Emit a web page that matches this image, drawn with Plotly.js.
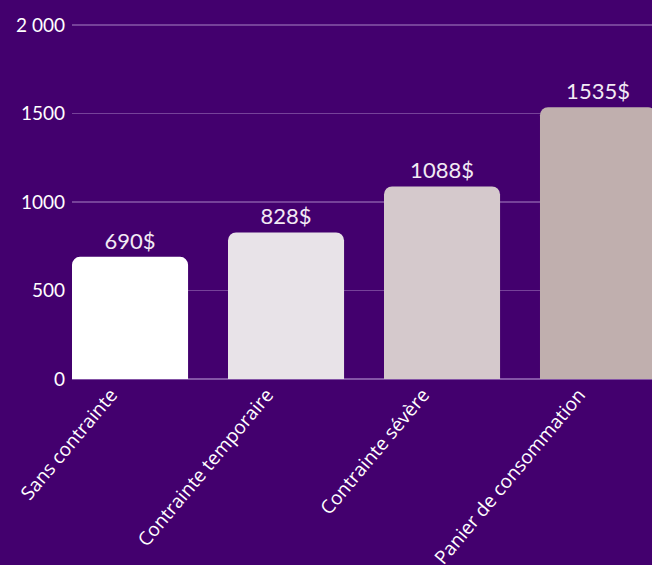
<!DOCTYPE html>
<html>
<head>
<meta charset="utf-8">
<script src="https://cdn.plot.ly/plotly-3.0.1.min.js"></script>
<style>html,body{margin:0;padding:0;background:#43006e;}#chart{width:652px;height:565px;}</style>
</head>
<body>
<div id="chart"></div>
<script>
const categories = ["Sans contrainte", "Contrainte temporaire", "Contrainte sévère", "Panier de consommation"];
const values = [690, 828, 1088, 1535];
const labels = ["690$", "828$", "1088$", "1535$"];
const barColors = ["#ffffff", "#e8e3e8", "#d5c9cc", "#c0afae"];
const tickVals = [0, 500, 1000, 1500, 2000];
const tickText = ["0", "500", "1000", "1500", "2 000"];

const font = "Lato, 'Open Sans', sans-serif";
const catFont = "'Open Sans', Lato, sans-serif";
const trace = {
  type: "bar",
  x: categories,
  y: values,
  text: labels,
  textposition: "outside",
  textfont: {family: font, size: 22, color: "#f2eaf4"},
  cliponaxis: false,
  marker: {color: barColors, cornerradius: 8, line: {width: 0}},
  hoverinfo: "none"
};
const layout = {
  width: 652, height: 565,
  paper_bgcolor: "#43006e",
  plot_bgcolor: "#43006e",
  margin: {l: 72, r: 0, t: 20, b: 186},
  showlegend: false,
  bargap: 0.256,
  font: {family: font, color: "#ffffff"},
  xaxis: {
    type: "category",
    range: [-0.372, 3.346],
    tickangle: -50,
    tickfont: {family: catFont, size: 19, color: "#ffffff"},
    showgrid: false,
    zeroline: false,
    showline: false,
    ticks: "",
    ticklabelshift: -19
  },
  yaxis: {
    range: [0, 2028],
    tickvals: tickVals,
    ticktext: tickText,
    tickfont: {family: font, size: 19, color: "#ffffff"},
    gridcolor: "rgba(160,120,190,0.55)",
    gridwidth: 1.3,
    zeroline: true,
    zerolinecolor: "rgba(160,120,190,0.7)",
    zerolinewidth: 1.3,
    ticks: "",
    ticklabelstandoff: 6
  }
};
Plotly.newPlot("chart", [trace], layout, {staticPlot: true, displayModeBar: false});
</script>
</body>
</html>
